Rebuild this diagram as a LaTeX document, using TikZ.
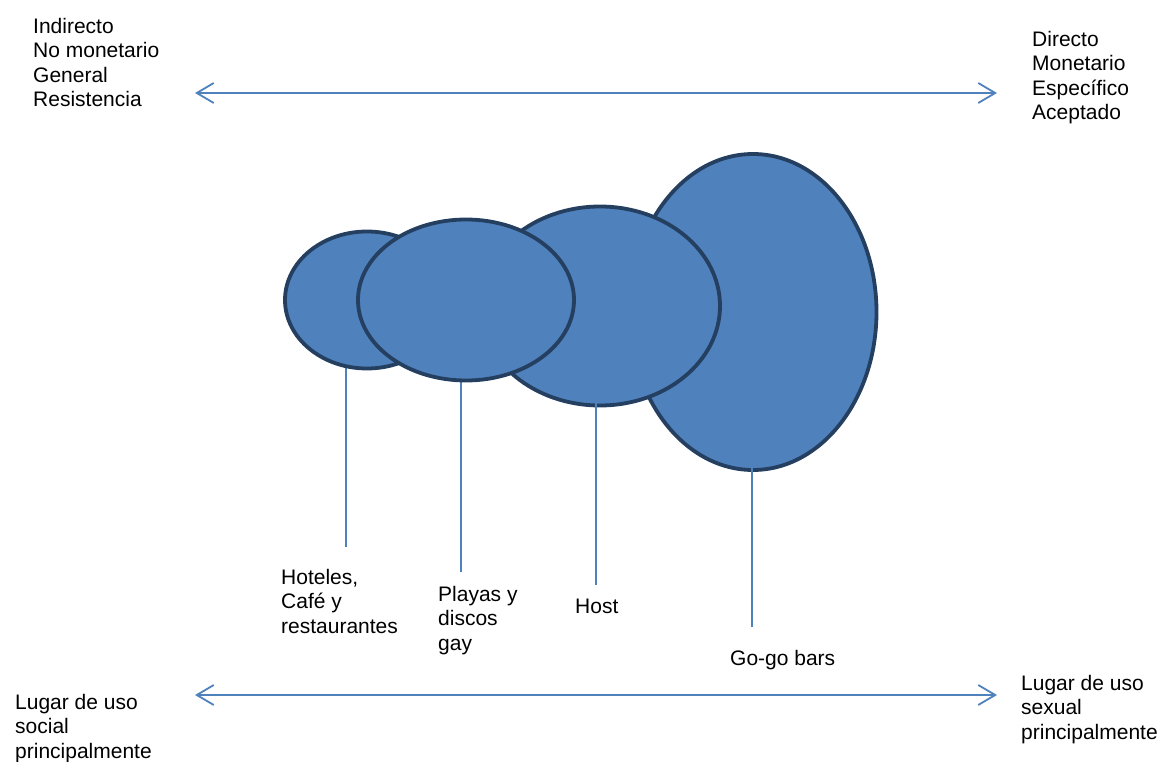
\documentclass[tikz,border=0pt]{standalone}
\usepackage{fontspec}
\setmainfont{Liberation Sans}
\usepackage{tikz}
\usetikzlibrary{positioning,arrows.meta,shapes.geometric}

\definecolor{bubblefill}{RGB}{79,129,189}
\definecolor{bubbleedge}{RGB}{36,63,96}
\definecolor{axisblue}{RGB}{79,129,189}

\begin{document}
\begin{tikzpicture}[
    x=1pt, y=-1pt,
    bubble/.style={ellipse, draw=bubbleedge, fill=bubblefill, line width=3.8pt, inner sep=0pt},
    lbl/.style={anchor=north west, inner sep=0pt, align=left, font=\fontsize{21}{24.5}\selectfont},
    stem/.style={draw=axisblue, line width=1.6pt},
    axis/.style={{Straight Barb[length=17pt, width=20pt, line width=1.8pt]}-{Straight Barb[length=17pt, width=20pt, line width=1.8pt]}, draw=axisblue, line width=1.8pt}
]
\useasboundingbox (0,0) rectangle (1163,762);

% texts at both ends of the two scales
\node[lbl] (indirecto) at (33,18) {Indirecto\\No monetario\\General\\Resistencia};
\node[lbl] (directo) at (1032,31) {Directo\\Monetario\\Específico\\Aceptado};
\node[lbl] (social) at (15,694) {Lugar de uso\\social\\principalmente};
\node[lbl] (sexual) at (1021,675) {Lugar de uso\\sexual\\principalmente};

\coordinate (topl) at (195,93);
\coordinate (topr) at (997,93);
\coordinate (botl) at (195,695);
\coordinate (botr) at (997,695);
\draw[axis] (topl) -- (topr);
\draw[axis] (botl) -- (botr);

% place names
\node[lbl] (cafelbl) at (281,569) {Hoteles,\\Café y\\restaurantes};
\node[lbl] (playaslbl) at (438,586) {Playas y\\discos\\gay};
\node[lbl] (hostlbl) at (575,599) {Host};
\node[lbl] (gogolbl) at (730,650) {Go-go bars};

% bubbles, back to front
\node[bubble, minimum width=247pt, minimum height=316pt] (gogo) at (753,312) {};
\node[bubble, minimum width=240pt, minimum height=199pt] (host) at (600,306) {};

\coordinate (t1) at (346,547);
\coordinate (t2) at (461,572);
\coordinate (t3) at (596,585);
\draw[stem] (t3) -- (t3 |- host.center);
\draw[stem] (t1) -- (t1 |- host.center);
\draw[stem] (t2) -- (t2 |- host.center);

\node[bubble, minimum width=164pt, minimum height=137pt] (cafe) at (367,300) {};
\node[bubble, minimum width=216pt, minimum height=161pt] (playas) at (466,300) {};

\coordinate (t4) at (752,627);
\coordinate (s4) at (752,450);
\draw[stem] (t4) -- (s4);
\end{tikzpicture}
\end{document}
